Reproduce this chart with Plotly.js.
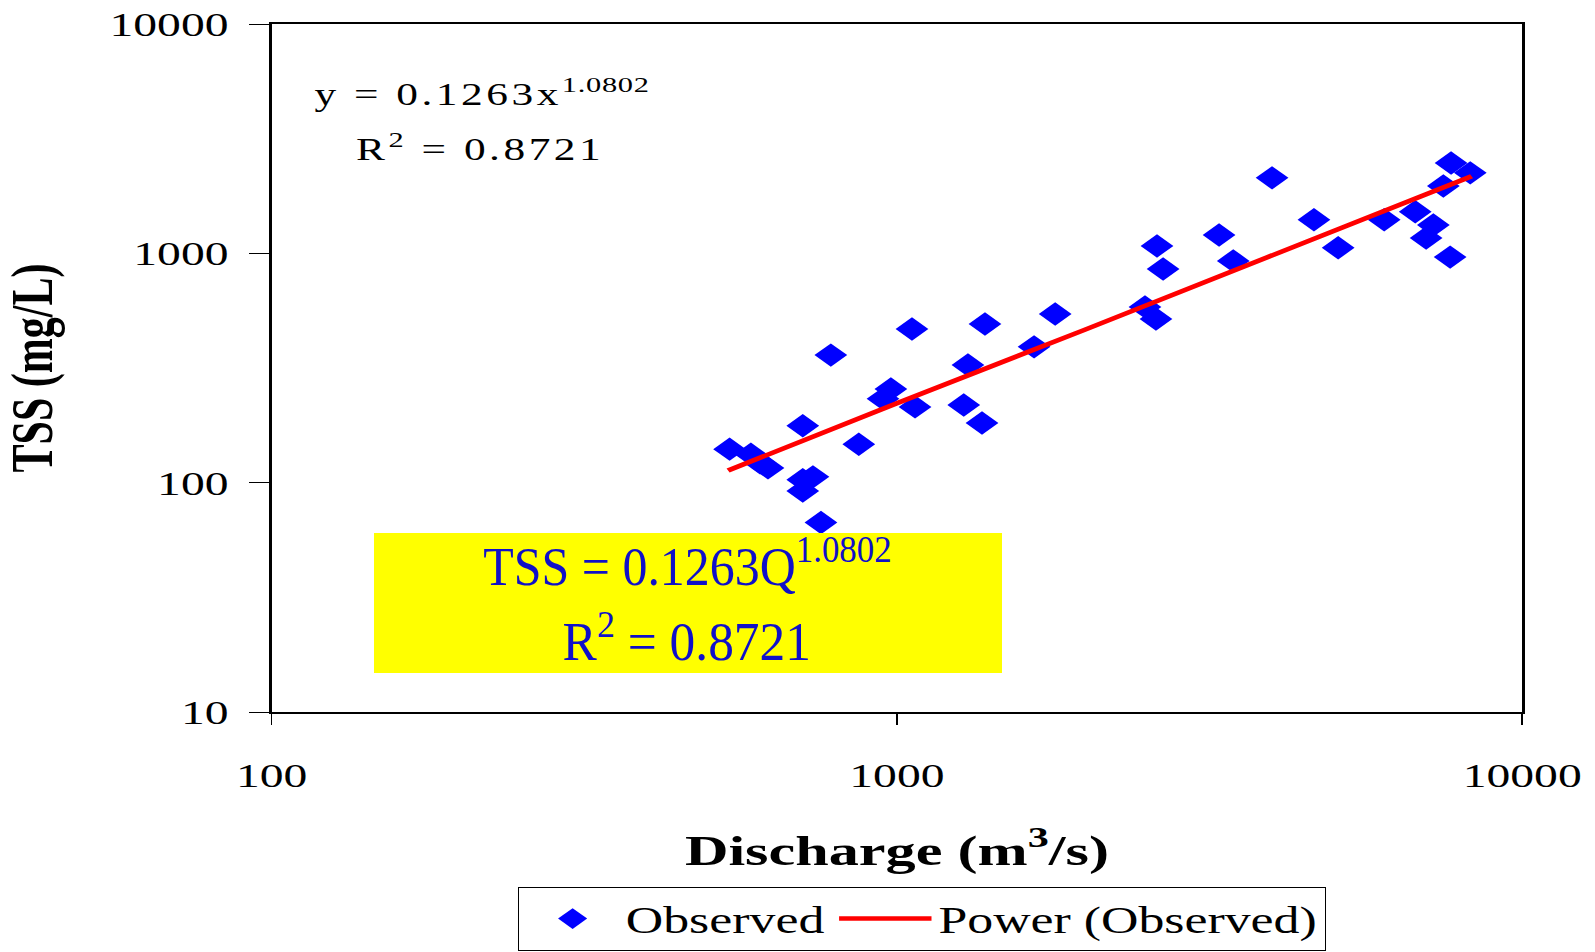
<!DOCTYPE html>
<html>
<head>
<meta charset="utf-8">
<script src="https://cdn.plot.ly/plotly-3.0.1.min.js"></script>
<style>
html, body { margin: 0; padding: 0; background: #ffffff; overflow: hidden; }
#chart { width: 1139px; height: 952px; transform: scaleX(1.40035); transform-origin: 0 0; }
g.annotation[data-index="0"] text, g.annotation[data-index="1"] text { letter-spacing: 2.5px; }
g.annotation[data-index="0"] text tspan[style*="font-size"] { letter-spacing: 0.5px; }
g.annotation[data-index="2"] text { transform-box: fill-box; transform-origin: center center; transform: scaleX(0.66); }
g.annotation[data-index="3"] text { transform-box: fill-box; transform-origin: center center; transform: scaleX(0.68); }
</style>
</head>
<body>
<div id="chart"></div>
<script>
// Observed discharge (m3/s) and TSS (mg/L)
const DISCHARGE = [540, 584, 604, 622, 707, 784, 869, 707, 734, 707, 756,
                   978, 950, 1069, 1057, 1299, 1279, 1368, 1383, 1657, 1791,
                   2493, 2596, 2606, 2665, 3275, 3451, 3981, 4645, 5078, 6016,
                   6745, 7210, 7020, 7670, 7696, 8260, 7480];
const TSS = [140, 133, 122, 116, 177, 360, 147, 103, 106, 92, 67,
             256, 232, 214, 468, 326, 218, 182, 492, 391, 544,
             584, 517, 1077, 855, 1202, 927, 2134, 1400, 1057, 1400,
             1518, 1330, 1167, 963, 2476, 2244, 1967];

// Power trend line
const TREND_DISCHARGE = [537, 1000, 2000, 4000, 8300];
const TREND_TSS = [113, 222, 465, 985, 2170];

const X_TICKS = [100, 1000, 10000];
const Y_TICKS = [10, 100, 1000, 10000];

const SERIES_NAMES = ['Observed', 'Power (Observed)'];
const X_TITLE = 'Discharge (m<sup>3</sup>/s)';
const Y_TITLE = 'TSS (mg/L)';
const EQ_TEXT = 'y = 0.1263x<sup>1.0802</sup>';
const R2_TEXT = 'R<sup>2</sup> = 0.8721';
const BOX_EQ_TEXT = 'TSS = 0.1263Q<sup>1.0802</sup>';
const BOX_R2_TEXT = 'R<sup>2</sup> = 0.8721';

const W = 1139, H = 952, S = 1595 / W;
const M = { l: 194, r: 52, t: 24, b: 240, pad: 0, autoexpand: false };
const PW = W - M.l - M.r, PH = H - M.t - M.b;
const px = X => (X / S - M.l) / PW;
const py = Y => (H - M.b - Y) / PH;
const SERIF = '"Liberation Serif", "Times New Roman", serif';

const traces = [
  {
    type: 'scatter', mode: 'markers', name: SERIES_NAMES[0],
    x: DISCHARGE, y: TSS,
    marker: { symbol: 'diamond', size: 18, color: '#0000ff', line: { width: 0 } }
  },
  {
    type: 'scatter', mode: 'lines', name: SERIES_NAMES[1],
    x: TREND_DISCHARGE, y: TREND_TSS,
    line: { color: '#ff0000', width: 4.5 }
  }
];

const axisCommon = {
  type: 'log', ticks: 'outside', tickwidth: 1, tickcolor: '#000',
  showline: true, linecolor: '#000', linewidth: 2, mirror: true,
  showgrid: false, zeroline: false, fixedrange: true, automargin: false,
  tickfont: { family: SERIF, size: 34, color: '#000' }
};

function note(text, xFull, yFull, xanchor, size, color) {
  return {
    text: text, xref: 'paper', yref: 'paper', x: px(xFull), y: py(yFull),
    showarrow: false, xanchor: xanchor, yanchor: 'middle', align: xanchor === 'center' ? 'center' : xanchor,
    font: { family: SERIF, size: size, color: color }
  };
}

const layout = {
  width: W, height: H, margin: M,
  paper_bgcolor: '#ffffff', plot_bgcolor: '#ffffff',
  showlegend: true, hovermode: false,
  xaxis: Object.assign({}, axisCommon, {
    range: [2, 4], tickvals: X_TICKS, ticktext: X_TICKS.map(String),
    ticklen: 11, ticklabelstandoff: 21,
    title: { text: X_TITLE, standoff: 42, font: { family: SERIF, size: 43, color: '#000', weight: 'bold' } }
  }),
  yaxis: Object.assign({}, axisCommon, {
    range: [1, 4], tickvals: Y_TICKS, ticktext: Y_TICKS.map(String),
    ticklen: 14, ticklabelstandoff: 8,
    title: { text: Y_TITLE, standoff: 30, font: { family: SERIF, size: 42, color: '#000', weight: 'bold' } }
  }),
  legend: {
    orientation: 'h', x: px(922), xanchor: 'center', y: py(887), yanchor: 'top',
    bordercolor: '#000', borderwidth: 1, bgcolor: '#ffffff', itemwidth: 66,
    font: { family: SERIF, size: 37, color: '#000' }
  },
  shapes: [{
    type: 'rect', xref: 'paper', yref: 'paper', layer: 'above',
    x0: px(374), x1: px(1002), y0: py(673), y1: py(533),
    fillcolor: '#ffff00', line: { width: 0 }
  }],
  annotations: [
    note(EQ_TEXT, 653, 93, 'right', 31, '#000'),
    note(R2_TEXT, 480, 147, 'center', 31, '#000'),
    note(BOX_EQ_TEXT, 688, 562, 'center', 54, '#1010c8'),
    note(BOX_R2_TEXT, 687, 637, 'center', 54, '#1010c8')
  ]
};

Plotly.newPlot('chart', traces, layout, { staticPlot: true, displayModeBar: false });
</script>
</body>
</html>
